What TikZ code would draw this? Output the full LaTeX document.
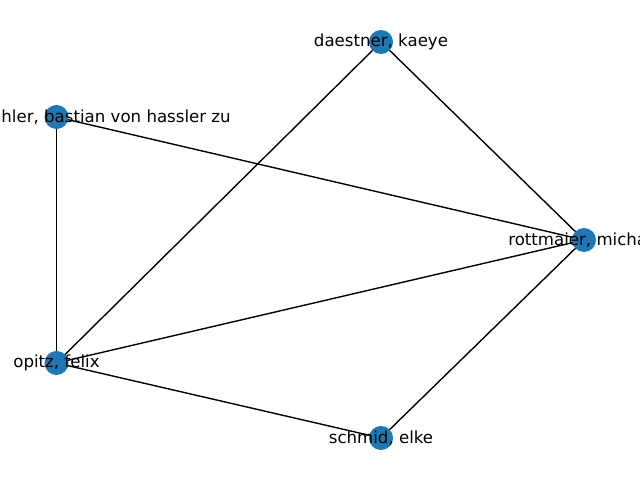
\documentclass[tikz,border=0pt]{standalone}
\usepackage{fontspec}
\setmainfont{DejaVu Sans}
\usetikzlibrary{calc, backgrounds}

\begin{document}
\begin{tikzpicture}[x=0.01in, y=-0.01in,
    vertex/.style={circle, fill={rgb,255:red,31;green,119;blue,180}, inner sep=0pt, minimum size=0.24in},
    vlabel/.style={font=\fontsize{12}{14}\selectfont, inner sep=0pt},
    edge/.style={black, line width=1bp}]
  % --- Frame (640 x 480) ---
  \useasboundingbox (0,0) rectangle (640,480);
  \clip (0,0) rectangle (640,480);
  % --- Vertices ---
  \node[vertex] (dae) at (381,42)  {};
  \node[vertex] (has) at (56.5,117)  {};
  \node[vertex] (rot) at (584,240) {};
  \node[vertex] (opi) at (56.5,363)  {};
  \node[vertex] (sch) at (381,438) {};
  % --- Edges ---
  \begin{scope}[on background layer]
  \foreach \a/\b in {dae/rot, dae/opi, has/rot, has/opi, opi/rot, opi/sch, sch/rot} {
    \draw[edge] (\a.center) -- (\b.center);
  }
  \end{scope}
  % --- Labels ---
  \node[vlabel] (ldae) at (dae) {daestner, kaeye};
  \node[vlabel, anchor=east] (lhas) at ($(has)+(174.5,0)$) {hler, bastian von hassler zu};
  \node[vlabel, anchor=west] (lrot) at ($(rot)+(-76,0)$) {rottmaier, micha};
  \node[vlabel] (lopi) at (opi) {opitz, felix};
  \node[vlabel] (lsch) at (sch) {schmid, elke};
\end{tikzpicture}
\end{document}
